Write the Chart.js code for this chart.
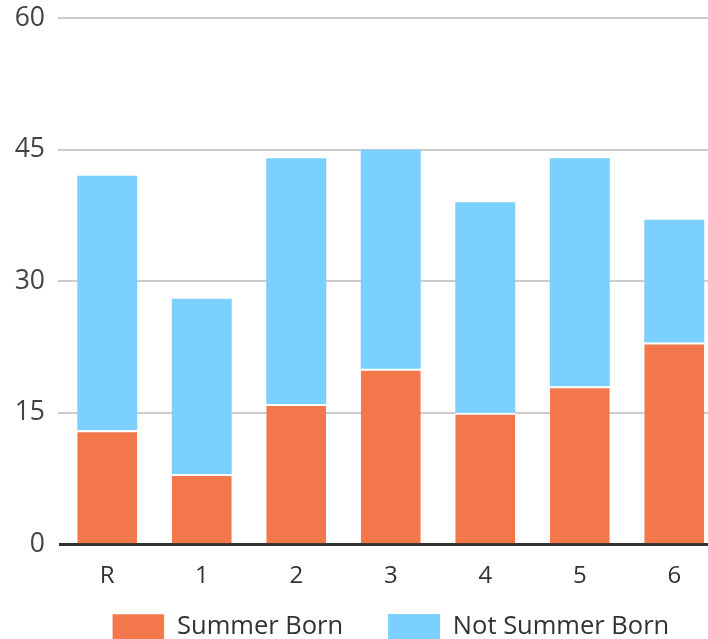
<!DOCTYPE html>
<html>
<head>
<meta charset="utf-8">
<script src="https://cdn.jsdelivr.net/npm/chart.js@4"></script>
<style>
  html, body { margin: 0; padding: 0; background: #fff; overflow: hidden; }
  #wrap { position: absolute; left: 0; top: 0; width: 722px; height: 682px; }
</style>
</head>
<body>
<div id="wrap"><canvas id="chart"></canvas></div>
<script>
/* DATA */
const years = ["R", "1", "2", "3", "4", "5", "6"];
const summerBorn = [13, 8, 16, 20, 15, 18, 23];
const notSummerBorn = [29, 20, 28, 25, 24, 26, 14];
const yTicks = [0, 15, 30, 45, 60];

const FONT = "'Open Sans', 'Noto Sans', sans-serif";

/* pull the legend up closer to the axis labels (its padding also sets the item gap) */
const liftLegend = {
    id: "liftLegend",
    afterLayout(chart) {
        chart.legend.top -= 32;
        chart.legend.bottom -= 32;
    }
};

new Chart(document.getElementById("chart"), {
    type: "bar",
    data: {
        labels: years,
        datasets: [
            {
                label: "Summer Born",
                data: summerBorn,
                backgroundColor: "#f2784b",
                borderColor: "#ffffff",
                borderWidth: { top: 2, left: 0, right: 0, bottom: 0 },
                borderSkipped: false
            },
            {
                label: "Not Summer Born",
                data: notSummerBorn,
                backgroundColor: "#7bd0ff",
                borderWidth: 0
            }
        ]
    },
    plugins: [liftLegend],
    options: {
        responsive: true,
        maintainAspectRatio: false,
        animation: false,
        devicePixelRatio: 1,
        layout: { padding: { top: 18, right: 0.5, left: 0, bottom: 0 } },
        datasets: { bar: { barPercentage: 60 / 94.5, categoryPercentage: 1 } },
        plugins: {
            tooltip: { enabled: false },
            legend: {
                position: "bottom",
                fullSize: false,
                labels: {
                    boxWidth: 52,
                    boxHeight: 26,
                    padding: 45,
                    color: "#333",
                    font: { family: FONT, size: 25.5 }
                }
            }
        },
        scales: {
            x: {
                stacked: true,
                z: 1,
                grid: { display: false },
                border: { display: true, color: "#333", width: 3 },
                ticks: { color: "#333", padding: 10, font: { family: FONT, size: 24 } }
            },
            y: {
                stacked: true,
                min: 0,
                max: 60,
                afterFit: s => { s.width = 60; s.paddingTop = 0; s.paddingBottom = 0; },
                afterBuildTicks: s => { s.ticks = yTicks.map(v => ({ value: v })); },
                grid: {
                    color: c => c.tick && c.tick.value === 0 ? "rgba(0,0,0,0)" : "#cccccc",
                    lineWidth: 2,
                    tickLength: 2
                },
                border: { display: false },
                ticks: { color: "#444", padding: 13, font: { family: FONT, size: 26.5 } }
            }
        }
    }
});
</script>
</body>
</html>
